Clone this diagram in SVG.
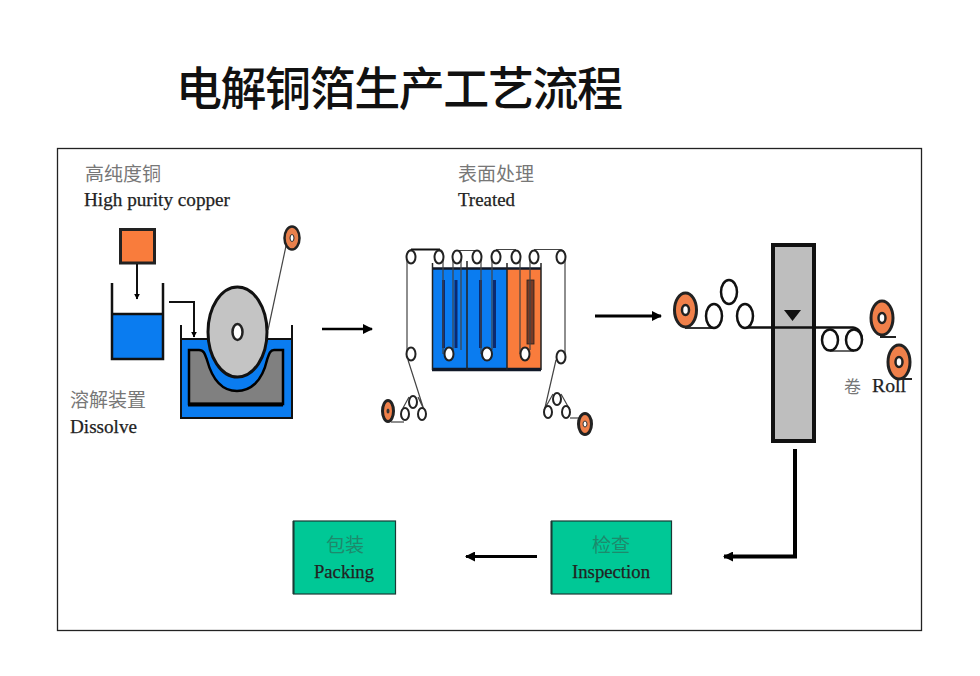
<svg xmlns="http://www.w3.org/2000/svg" width="980" height="676" viewBox="0 0 980 676">
<style>
.cn{font-family:"Noto Sans CJK SC","Noto Sans CJK JP",sans-serif;font-size:19px;fill:#777}
.en{font-family:"Liberation Serif",serif;font-size:18.500px;fill:#222;stroke:#222;stroke-width:.25}
.b{stroke:#111;stroke-width:2.500;fill:none}
.th{stroke:#444;stroke-width:1.200;fill:none}
.r{stroke:#222;stroke-width:2;fill:#fff}
.rt{stroke:#111;stroke-width:2.500;fill:#fff}
.or{fill:#f0804a;stroke:#222;stroke-width:3}
.hole{fill:#fff;stroke:#222;stroke-width:2.500}
.dark{fill:#0a2a70}
.arrow{stroke:#000;stroke-width:3;fill:none}
.green{fill:#00c896;stroke:#1a3a35;stroke-width:1.200}
.gt{fill:#1d8a6c}
</style>
<defs>
<marker id="ah" markerUnits="userSpaceOnUse" viewBox="0 0 10 10" refX="9" refY="5" markerWidth="10" markerHeight="10" orient="auto"><path d="M0 0L10 5L0 10Z" fill="#000"/></marker>
<marker id="ahs" markerUnits="userSpaceOnUse" viewBox="0 0 10 10" refX="9" refY="5" markerWidth="6" markerHeight="6" orient="auto"><path d="M0 0L10 5L0 10Z" fill="#000"/></marker>
</defs>
<rect width="980" height="676" fill="#fff"/>
<text x="176" y="105" font-family="'Noto Sans CJK SC',sans-serif" font-size="46" font-weight="500" fill="#111" textLength="447" lengthAdjust="spacing">电解铜箔生产工艺流程</text>
<rect x="57.500" y="148.500" width="864" height="482" fill="#fff" stroke="#222" stroke-width="1.300"/>

<g id="copper-source">
<text class="cn" x="85" y="181" textLength="76">高纯度铜</text>
<text class="en" x="84" y="206" textLength="146" lengthAdjust="spacingAndGlyphs">High purity copper</text>
<rect x="120.500" y="229.500" width="34" height="33.500" fill="#f97c3c" stroke="#222" stroke-width="3"/>
</g>
<g id="dissolve-beaker">
<rect x="113" y="314" width="49" height="45" fill="#0a7cf0"/>
<path class="b" d="M112 283V359H163V283M112 314H163"/>
<text class="cn" x="70" y="407" textLength="76">溶解装置</text>
<text class="en" x="70" y="433" textLength="67" lengthAdjust="spacingAndGlyphs">Dissolve</text>
</g>
<g id="electrolysis-tank">
<rect x="181" y="339" width="111" height="79" fill="#0a7cf0"/>
<path d="M189 350H199C204 350 205 354 207 360C213 382 224 391 237 391C250 391 262 382 267 360C269 354 270 350 274 350H283V404H189Z" fill="#808080" stroke="#000" stroke-width="2.500"/>
<path d="M188 404.500H283" stroke="#000" stroke-width="4"/>
<path class="b" d="M181 325V418H292V325M181 339H292" style="stroke-width:2"/>
<ellipse cx="237.500" cy="332" rx="29.500" ry="45" fill="#c4c4c4" stroke="#111" stroke-width="3"/>
<ellipse class="hole" cx="237.500" cy="332" rx="5" ry="8"/>
<path class="th" d="M268 330L286 246"/>
<ellipse cx="292" cy="238" rx="7.500" ry="11.500" fill="#e8804c" stroke="#222" stroke-width="2.500"/>
<ellipse cx="292" cy="238" rx="2" ry="3.500" fill="#fff" stroke="#222"/>
</g>
<g id="surface-treatment">
<text class="cn" x="458" y="181" textLength="76">表面处理</text>
<text class="en" x="458" y="206" textLength="57" lengthAdjust="spacingAndGlyphs">Treated</text>
<rect x="433" y="268" width="34" height="102" fill="#0a7cf0"/>
<rect x="467" y="268" width="40" height="102" fill="#0a7cf0"/>
<rect x="507" y="268" width="34" height="102" fill="#f97c3c"/>
<path d="M432 268.500H541" stroke="#101828" stroke-width="2.500"/>
<path d="M432 369.500H541" stroke="#101828" stroke-width="3.500"/>
<path d="M432.500 263V370M467 261V370M507 263V370M541 263V370" stroke="#222" stroke-width="1.500"/>
<rect class="dark" x="442" y="280" width="3" height="68"/>
<rect class="dark" x="454.500" y="280" width="3" height="68"/>
<rect class="dark" x="479" y="280" width="3" height="68"/>
<rect class="dark" x="493" y="280" width="3" height="68"/>
<rect x="527" y="280" width="7" height="64" fill="#7a3a24" stroke="#222" stroke-width=".8"/>
<path d="M411 249.500H440" stroke="#111" stroke-width="2" fill="none"/>
<path class="th" d="M407 257V354M411 249.500C408 250 407 253 407 257M440 249.500C443 250 443 253 443 257V354M453 257V350M457 250.500H477M461 257V350M481 257V354M492 257V350M496 249.500H516M520 257V354M530 257V350M534 249.500H561C564 250 565 253 565 257V357M408 360L424 410M556 360L544 412M403 408L409 397M418 397L426 414M553 394L544 410M561 394L570 410"/>
<ellipse class="r" cx="411" cy="257" rx="4.500" ry="6.500"/>
<ellipse class="r" cx="439" cy="257" rx="4.500" ry="6.500"/>
<ellipse class="r" cx="457" cy="257" rx="4.500" ry="6.500"/>
<ellipse class="r" cx="477" cy="257" rx="4.500" ry="6.500"/>
<ellipse class="r" cx="496" cy="257" rx="4.500" ry="6.500"/>
<ellipse class="r" cx="516" cy="257" rx="4.500" ry="6.500"/>
<ellipse class="r" cx="534" cy="257" rx="4.500" ry="6.500"/>
<ellipse class="r" cx="561" cy="257" rx="4.500" ry="6.500"/>
<ellipse class="r" cx="449" cy="354" rx="4.500" ry="6.500"/>
<ellipse class="r" cx="487" cy="354" rx="5" ry="6.500"/>
<ellipse class="r" cx="525" cy="354" rx="4.500" ry="6.500"/>
<ellipse class="r" cx="411" cy="354" rx="4.500" ry="6.500"/>
<ellipse class="r" cx="561" cy="357" rx="4.500" ry="6.500"/>
<ellipse class="r" cx="413" cy="402" rx="4" ry="6"/>
<ellipse class="r" cx="405" cy="414" rx="4" ry="6"/>
<ellipse class="r" cx="422" cy="414" rx="4" ry="6"/>
<path class="th" d="M391 422H404"/>
<ellipse class="or" cx="388" cy="411" rx="5.500" ry="10.500"/>
<ellipse cx="388" cy="411" rx="1.500" ry="2.500" fill="#333"/>
<ellipse class="r" cx="557" cy="399" rx="4" ry="6"/>
<ellipse class="r" cx="548" cy="412" rx="4" ry="6"/>
<ellipse class="r" cx="566" cy="412" rx="4" ry="6"/>
<path class="th" d="M570 418H586"/>
<ellipse class="or" cx="585" cy="424" rx="6.500" ry="10.500"/>
<ellipse cx="585" cy="424" rx="2" ry="3" fill="#fff" stroke="#333"/>
</g>
<g id="slitter">
<rect x="773" y="245" width="41" height="196" fill="#bebebe" stroke="#111" stroke-width="4"/>
<path d="M784 310H801L792.500 321Z" fill="#111"/>
<path d="M685 328H714" stroke="#333" stroke-width="2" fill="none"/>
<path d="M745 327.500H853C859 328 862 334 862 340" stroke="#111" stroke-width="2.500" fill="none"/>
<path d="M830 351H854" stroke="#333" stroke-width="1.500" fill="none"/>
<ellipse class="rt" cx="714" cy="316" rx="8" ry="12"/>
<ellipse class="rt" cx="729" cy="292" rx="8" ry="12"/>
<ellipse class="rt" cx="745" cy="316" rx="8" ry="12"/>
<ellipse class="rt" cx="830" cy="340" rx="8" ry="10.500"/>
<ellipse class="rt" cx="854" cy="340" rx="8" ry="10.500"/>
<ellipse class="or" cx="685.500" cy="310" rx="11" ry="17"/>
<ellipse class="hole" cx="685.500" cy="310" rx="3.500" ry="5"/>
<path d="M880 337H896M898 379H912" stroke="#222" stroke-width="2"/>
<ellipse class="or" cx="882" cy="318" rx="11" ry="17"/>
<ellipse class="hole" cx="882" cy="318" rx="3.500" ry="5"/>
<ellipse class="or" cx="899" cy="362" rx="11" ry="17"/>
<ellipse class="hole" cx="899" cy="362" rx="3.500" ry="5"/>
<text class="cn" x="844" y="393" style="font-size:17px">卷</text>
<text class="en" x="872" y="392" textLength="34" lengthAdjust="spacingAndGlyphs">Roll</text>
</g>
<g id="inspection">
<rect class="green" x="551.500" y="521" width="120" height="73"/>
<path d="M551.500 521V594" stroke="#1a3a35" stroke-width="2"/>
<text class="cn gt" x="611" y="552" text-anchor="middle" style="fill:#1d8a6c">检查</text>
<text class="en" x="611" y="578" text-anchor="middle" textLength="78" lengthAdjust="spacingAndGlyphs">Inspection</text>
</g>
<g id="packing">
<rect class="green" x="293.500" y="521" width="102" height="73"/>
<path d="M293.500 521V594" stroke="#1a3a35" stroke-width="2"/>
<text class="cn gt" x="345" y="552" text-anchor="middle" style="fill:#1d8a6c">包装</text>
<text class="en" x="344" y="578" text-anchor="middle" textLength="60" lengthAdjust="spacingAndGlyphs">Packing</text>
</g>
<g id="connectors">
<path d="M137 264V299" stroke="#111" stroke-width="2" fill="none" marker-end="url(#ahs)"/>
<path d="M169 302H194V337" stroke="#111" stroke-width="2" fill="none" marker-end="url(#ahs)"/>
<path class="arrow" style="stroke-width:2.500" d="M322 329H372" marker-end="url(#ah)"/>
<path class="arrow" d="M595 316H661" marker-end="url(#ah)"/>
<path d="M795 449V556.500H724" stroke="#000" stroke-width="4" fill="none" marker-end="url(#ah)"/>
<path class="arrow" d="M537 556.500H466" marker-end="url(#ah)"/>
</g>
</svg>
